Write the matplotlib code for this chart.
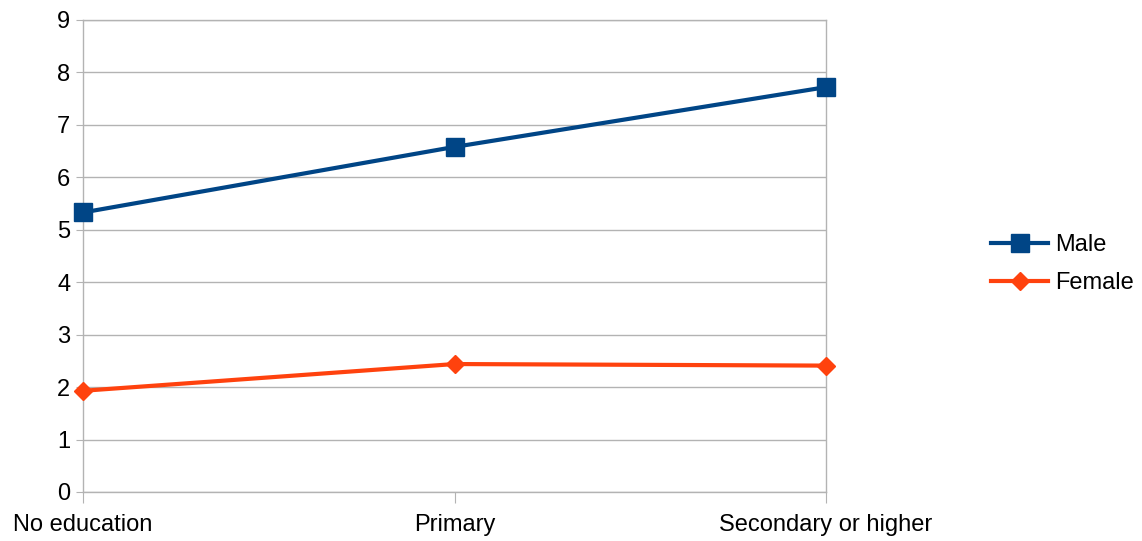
import matplotlib
matplotlib.use("Agg")
import matplotlib.pyplot as plt

categories = ["No education", "Primary", "Secondary or higher"]
male = [5.33, 6.58, 7.72]
female = [1.93, 2.44, 2.41]
y_ticks = list(range(0, 10))

plt.rcParams["font.family"] = ["Liberation Sans", "DejaVu Sans"]

GRID = "#b3b3b3"

fig = plt.figure(figsize=(11.42, 5.41), dpi=100)
ax = fig.add_axes([83 / 1142, 1 - 492 / 541, (826 - 83) / 1142, (492 - 20) / 541])

x = range(len(categories))
ax.plot(x, male, color="#004586", linewidth=3, marker="s", markersize=13.5,
        label="Male", clip_on=False, zorder=4)
ax.plot(x, female, color="#ff420e", linewidth=3, marker="D", markersize=9,
        label="Female", clip_on=False, zorder=4)

ax.set_xlim(0, len(categories) - 1)
ax.set_ylim(0, 9)
ax.set_yticks(y_ticks)
ax.set_xticks(list(x))
ax.set_xticklabels(categories)
ax.yaxis.grid(True, color=GRID, linewidth=1)
ax.set_axisbelow(True)
for s in ax.spines.values():
    s.set_color(GRID)
    s.set_linewidth(1)
ax.tick_params(axis="y", length=5, color=GRID, labelsize=17, pad=4)
ax.tick_params(axis="x", length=8, color=GRID, labelsize=17, pad=8)

fig.legend(loc="center left", bbox_to_anchor=(970 / 1142, 0.512), frameon=False,
           fontsize=17, handlelength=2.4, handletextpad=0.3, labelspacing=0.67)

fig.savefig("out.png", dpi=100)
plt.close(fig)
